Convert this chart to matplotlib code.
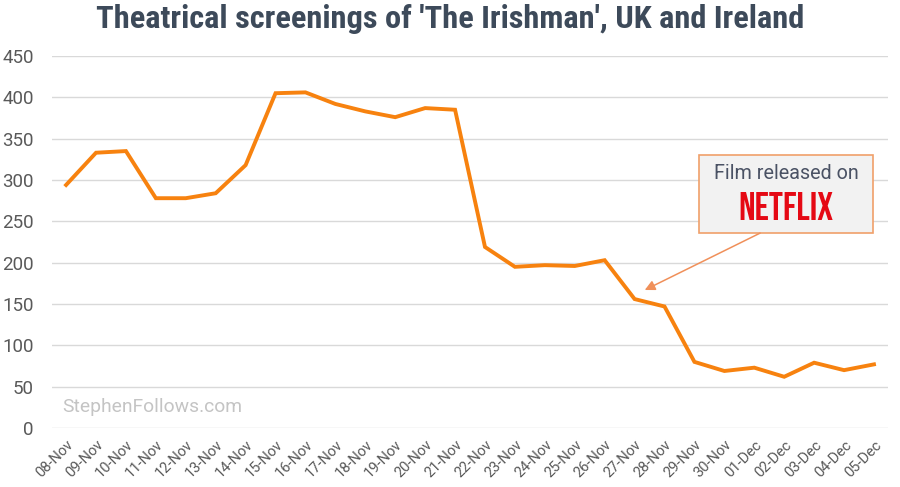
import matplotlib
matplotlib.use("Agg")
import matplotlib.pyplot as plt
from matplotlib.patches import Rectangle
from matplotlib import font_manager

dates = ["08-Nov", "09-Nov", "10-Nov", "11-Nov", "12-Nov", "13-Nov", "14-Nov",
         "15-Nov", "16-Nov", "17-Nov", "18-Nov", "19-Nov", "20-Nov", "21-Nov",
         "22-Nov", "23-Nov", "24-Nov", "25-Nov", "26-Nov", "27-Nov", "28-Nov",
         "29-Nov", "30-Nov", "01-Dec", "02-Dec", "03-Dec", "04-Dec", "05-Dec"]
screenings = [294, 333, 335, 278, 278, 284, 318,
              405, 406, 392, 383, 376, 387, 385,
              219, 195, 197, 196, 203, 156, 147,
              80, 69, 73, 62, 79, 70, 77]
y_ticks = [0, 50, 100, 150, 200, 250, 300, 350, 400, 450]

names = {f.name for f in font_manager.fontManager.ttflist}


def pick(cands):
    for c in cands:
        if c in names:
            return c
    return "Roboto"


title_font = pick(["Roboto Condensed", "Barlow Condensed", "Archivo Narrow", "Asap Condensed"])
logo_font = pick(["Bebas Neue", "Oswald", "Roboto Condensed", "Barlow Condensed"])

plt.rcParams["font.family"] = ["Roboto", "DejaVu Sans"]

fig = plt.figure(figsize=(9, 4.87), dpi=100)
ax = fig.add_axes([0.0578, 0.1211, 0.9289, 0.7639])

x = list(range(len(dates)))
ax.plot(x, screenings, color="#f7820f", lw=2.8, solid_joinstyle="miter", zorder=3)

ax.set_xlim(-0.47, len(dates) - 1 + 0.47)
ax.set_ylim(0, 450)
ax.set_yticks(y_ticks)
ax.set_yticklabels([str(v) for v in y_ticks], fontsize=13.5, color="#595959")
ax.set_xticks(x)
ax.set_xticklabels(dates, rotation=45, ha="right", rotation_mode="anchor",
                   fontsize=10.5, color="#595959")
ax.tick_params(axis="both", length=0)
ax.tick_params(axis="y", pad=13)
ax.tick_params(axis="x", pad=7)
ax.yaxis.grid(True, color="#d9d9d9", lw=1)
ax.set_axisbelow(True)
for s in ax.spines.values():
    s.set_visible(False)

fig.text(0.5, 0.962, "Theatrical screenings of 'The Irishman', UK and Ireland",
         ha="center", va="center", fontsize=23.3, fontweight="bold",
         color="#3d4a5a", family=[title_font, "DejaVu Sans"])

ax.text(0.012, 0.057, "StephenFollows.com", transform=ax.transAxes,
        fontsize=13.9, color="#c4c4c4", ha="left", va="center")

# annotation box
ax.add_patch(Rectangle((0.774, 0.524), 0.208, 0.21, transform=ax.transAxes,
                       facecolor="#f2f2f2", edgecolor="#f0a06a", lw=1.2,
                       zorder=4))
ax.text(0.878, 0.685, "Film released on", transform=ax.transAxes,
        ha="center", va="center", fontsize=14.2, color="#4a5264", zorder=5)
ax.text(0.878, 0.597, "NETFLIX", transform=ax.transAxes, ha="center",
        va="center", fontsize=28, fontweight="bold", color="#e50914",
        family=[logo_font, "DejaVu Sans"], zorder=5)
ax.annotate("", xy=(0.709, 0.371), xycoords="axes fraction",
            xytext=(0.847, 0.524), textcoords="axes fraction",
            arrowprops=dict(arrowstyle="-|>,head_length=0.6,head_width=0.3",
                            color="#f0905a", lw=1.1, shrinkA=0, shrinkB=0),
            zorder=4)

fig.savefig("out.png", dpi=100, facecolor="white")
